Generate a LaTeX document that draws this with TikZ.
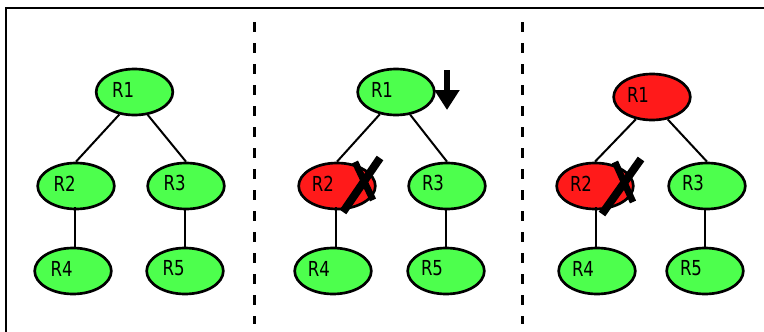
\documentclass[tikz,border=0pt]{standalone}
\usepackage{fontspec}
\setmainfont{DejaVu Sans}
\newfontfamily\lblfont[FakeStretch=0.8]{DejaVu Sans}
\usetikzlibrary{shapes.geometric,arrows.meta}
\definecolor{ngreen}{RGB}{77,255,77}
\definecolor{nred}{RGB}{255,26,26}
\begin{document}
\begin{tikzpicture}[x=0.75pt,y=-0.75pt,
  rn/.style={ellipse,draw=black,line width=2pt,minimum width=57.5pt,minimum height=34.5pt,inner sep=0pt},
  gn/.style={rn,fill=ngreen},
  rd/.style={rn,fill=nred},
  lab/.style={font=\lblfont\fontsize{15.5}{17}\selectfont,inner sep=0pt},
  lA/.style={label={[lab,xshift=-8.5pt,yshift=1.9pt]center:#1}},
  lB/.style={label={[lab,xshift=-10.5pt,yshift=1.9pt]center:#1}},
  link/.style={line width=1.5pt},
  divider/.style={line width=2.25pt,dash pattern=on 7.5pt off 8.25pt},
  cross/.style={line width=#1,line cap=butt},
  frame/.style={line width=1.5pt}]
\useasboundingbox (0,0) rectangle (764,332);
% frame
\coordinate (fa) at (5.5,340);
\coordinate (fb) at (5.5,7.5);
\coordinate (fc) at (770,7.5);
\draw[frame] (fa) -- (fb) -- (fc);
% dividers
\coordinate (d1t) at (254.5,22);
\coordinate (d1b) at (254.5,324);
\coordinate (d2t) at (522.5,22);
\coordinate (d2b) at (522.5,324);
\draw[divider] (d1t) -- (d1b);
\draw[divider] (d2t) -- (d2b);
% panel 1
\node[gn,lA=R1] (a1) at (134.5,92) {};
\node[gn,lA=R2] (a2) at (76,186) {};
\node[gn,lA=R3] (a3) at (186,186) {};
\node[gn,lA=R4] (a4) at (73,271) {};
\node[gn,lA=R5] (a5) at (185,271) {};
\draw[link] (a1.236) -- (a2.north);
\draw[link] (a1.300) -- (a3.north);
\draw[link] (a4.north) ++(1.5,0) -- ++(0,-40);
\draw[link] (a5.north) -- (a5.north |- a3.south);
% panel 2
\node[gn,lB=R1] (b1) at (396,92) {};
\node[rd,lB=R2] (b2) at (337,186) {};
\node[gn,lB=R3] (b3) at (447,186) {};
\node[gn,lB=R4] (b4) at (333,271) {};
\node[gn,lB=R5] (b5) at (446,271) {};
\draw[link] (b1.234) -- (b2.north);
\draw[link] (b1.302) -- (b3.north);
\draw[link] (b4.north) ++(2.5,0) -- ++(0,-40);
\draw[link] (b5.north) -- (b5.north |- b3.south);
\begin{scope}[shift={(b2.center)}]
  \draw[cross=5pt] (18,-24) -- (36,14);
  \draw[cross=6pt] (6,26) -- (43,-28);
\end{scope}
\coordinate (arT) at (447,70);
\coordinate (arB) at (447,110);
\draw[line width=4.5pt,-{Triangle[width=18pt,length=15pt]}] (arT) -- (arB);
% panel 3
\node[rd,lB=R1] (c1) at (652,97) {};
\node[rd,lB=R2] (c2) at (595,186) {};
\node[gn,lB=R3] (c3) at (707,186) {};
\node[gn,lB=R4] (c4) at (597,271) {};
\node[gn,lB=R5] (c5) at (705,271) {};
\draw[link] (c1.234) -- (c2.north);
\draw[link] (c1.305) -- (c3.north);
\draw[link] (c4.north) ++(-1.5,0) -- ++(0,-40);
\draw[link] (c5.north) -- (c5.north |- c3.south);
\begin{scope}[shift={(c2.center)}]
  \draw[cross=5pt] (20,-24) -- (38,16);
  \draw[cross=6pt] (7,28) -- (46,-27);
\end{scope}
\end{tikzpicture}
\end{document}
